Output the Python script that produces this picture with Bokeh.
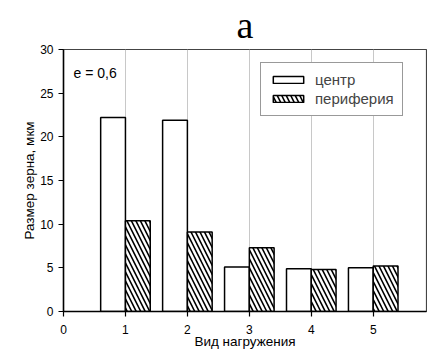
from bokeh.plotting import figure
from bokeh.models import Range1d, ColumnDataSource, Legend, LegendItem, FixedTicker, Label
from bokeh.transform import dodge
from bokeh.embed import file_html
from bokeh.resources import INLINE

load_types = [1, 2, 3, 4, 5]
center = [22.2, 21.9, 5.1, 4.9, 5.0]
periphery = [10.4, 9.1, 7.3, 4.8, 5.2]
series_names = ["центр", "периферия"]
title_text = "a"
note_text = "e = 0,6"

src = ColumnDataSource(dict(x=load_types, c=center, p=periphery))

p = figure(width=427, height=351, output_backend="svg", toolbar_location=None,
           x_range=Range1d(0, 5.86), y_range=Range1d(0, 30),
           min_border_left=63, min_border_right=1, min_border_top=49, min_border_bottom=39,
           title=title_text)
p.title.align = "center"
p.title.vertical_align = "top"
p.title.text_font = "Liberation Serif"
p.title.text_font_size = "38px"
p.title.text_font_style = "normal"
p.title.text_color = "black"
p.title.offset = 0
p.title.standoff = 3

r1 = p.vbar(x=dodge("x", -0.2, range=p.x_range), top="c", width=0.4, source=src,
            fill_color="white", line_color="black", line_width=1.5)
r2 = p.vbar(x=dodge("x", 0.2, range=p.x_range), top="p", width=0.4, source=src,
            fill_color="white", line_color="black", line_width=1.5,
            hatch_pattern="\\", hatch_color="black", hatch_scale=9, hatch_weight=1.6)

p.ygrid.visible = False
p.xgrid.ticker = FixedTicker(ticks=[1, 2, 3, 4, 5])
p.xgrid.grid_line_color = "#c8c8c8"
p.xgrid.grid_line_width = 1

p.xaxis.ticker = FixedTicker(ticks=[0, 1, 2, 3, 4, 5])
p.yaxis.ticker = FixedTicker(ticks=[0, 5, 10, 15, 20, 25, 30])
for ax in (p.xaxis, p.yaxis):
    ax.axis_line_color = "black"
    ax.axis_line_width = 1.5
    ax.major_tick_line_color = "black"
    ax.major_tick_line_width = 1.2
    ax.major_tick_in = 0
    ax.major_tick_out = 5
    ax.minor_tick_line_color = None
    ax.major_label_text_font = "Liberation Sans"
    ax.major_label_text_font_size = "12px"
    ax.major_label_text_color = "black"
    ax.axis_label_text_font = "Liberation Sans"
    ax.axis_label_text_font_size = "13.5px"
    ax.axis_label_text_font_style = "normal"
    ax.axis_label_text_color = "black"
p.xaxis.axis_label = "Вид нагружения"
p.yaxis.axis_label = "Размер зерна, мкм"
p.xaxis.major_label_standoff = 8
p.xaxis.axis_label_standoff = -3
p.yaxis.major_label_standoff = 5
p.yaxis.axis_label_standoff = 0

p.outline_line_color = "#444444"
p.outline_line_width = 1.2

p.add_layout(Label(x=10, y=231, x_units="screen", y_units="screen", text=note_text,
                   text_font="Liberation Sans", text_font_size="14px", text_color="black"))

legend = Legend(items=[LegendItem(label=series_names[0], renderers=[r1]),
                       LegendItem(label=series_names[1], renderers=[r2])],
                location=(197, 195))
legend.border_line_color = "#333333"
legend.border_line_width = 1.5
legend.background_fill_alpha = 1
legend.label_text_font = "Liberation Sans"
legend.label_text_font_size = "15px"
legend.glyph_width = 38
legend.glyph_height = 9
legend.label_height = 15
legend.spacing = 2
legend.padding = 8
legend.margin = 0
legend.label_standoff = 8
p.add_layout(legend)

open("out.html", "w").write(file_html(p, INLINE))
